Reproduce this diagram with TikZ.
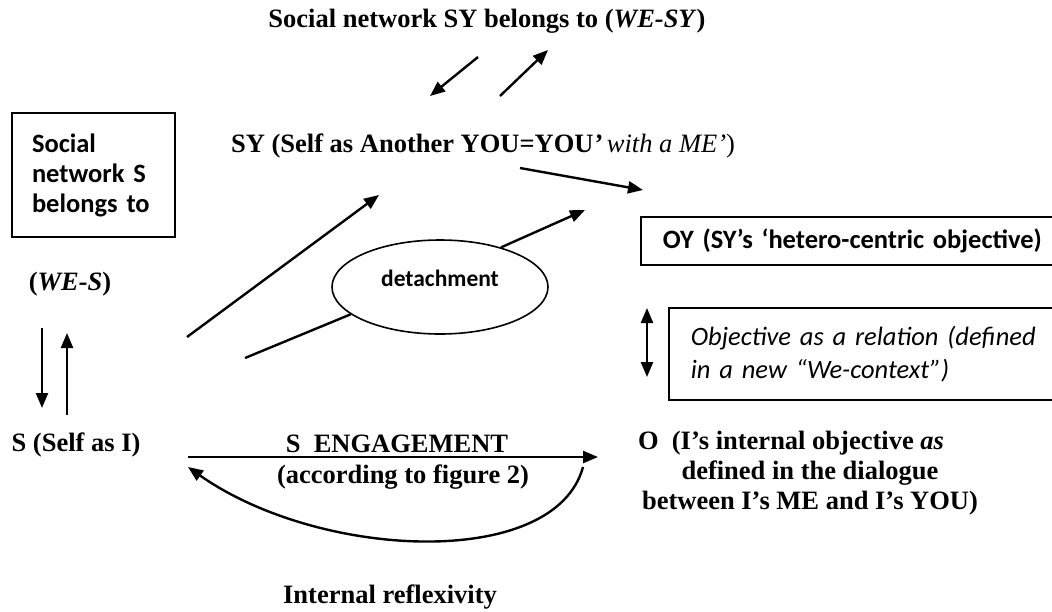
\documentclass[tikz,border=0pt]{standalone}
\usepackage{fontspec}
\setmainfont{Liberation Serif}
\newfontfamily\calib{Carlito}
\usetikzlibrary{arrows.meta,shapes.geometric}
\begin{document}
\begin{tikzpicture}[x=1pt,y=-1pt,
  conn/.style={line width=2.4pt,-{Triangle[length=15pt,width=12pt]}},
  dconn/.style={line width=2.4pt,{Triangle[length=15pt,width=12pt]}-{Triangle[length=15pt,width=12pt]}},
  plain/.style={line width=2.4pt},
  sertext/.style={font=\fontsize{26.5}{30}\selectfont\bfseries, inner sep=0pt, anchor=base},
  sansbox/.style={draw, line width=1.8pt, font=\fontsize{26.5}{30}\selectfont\calib\bfseries, align=left},
]
\useasboundingbox (0,0) rectangle (1052,611);
\clip (0,0) rectangle (1052,611);

% texts
\node[sertext] (title) at (487,27) {Social network SY belongs to (\textit{WE-SY})};
\node[sertext] (sy) at (483,152) {SY (Self as Another YOU=YOU\textit{’}{\mdseries\itshape\,with a ME’}\mdseries)};
\node[sansbox, text width=123pt, inner xsep=20pt, minimum height=124pt] (snS) at (93.5,175) {Social\\network S\\belongs to};
\node[sertext] (wes) at (70,290) {(\textit{WE-S})};
\node[sertext] (sI) at (76,451) {S (Self as I)};
\node[draw, ellipse, line width=1.6pt, minimum width=216pt, minimum height=94pt] (det) at (440,287) {};
\node[font=\fontsize{23.5}{28}\selectfont\calib\bfseries, anchor=base] (detl) at (440,286) {detachment};
\node[sansbox, anchor=west, minimum height=48pt, text width=406pt, inner xsep=22pt] (oy) at (640,241) {OY (SY’s ‘hetero-centric objective)};
\node[draw, line width=1.8pt, anchor=west, minimum height=92pt, text width=400pt, inner xsep=22pt, align=left,
      font=\fontsize{26.5}{33}\selectfont\calib\itshape] (obj) at (668,354) {Objective as a relation (defined\\in a new “We-context”)};
\node[sertext] (eng) at (397,452) {S\ \ ENGAGEMENT};
\node[sertext] (acc) at (403,483) {(according to figure 2)};
\node[font=\fontsize{26.5}{30}\selectfont\bfseries, align=center, anchor=north] (O) at (810,428)
  {O\ \ (I’s internal objective \textit{as}\hspace*{38pt}\\defined in the dialogue\\between I’s ME and I’s YOU)};
\node[sertext] (ir) at (390,603) {Internal reflexivity};

% coordinates
\coordinate (t1) at (478,57);
\coordinate (t2) at (430,96);
\coordinate (t3) at (500,96);
\coordinate (t4) at (548,50);
\coordinate (d1) at (42,328);
\coordinate (d2) at (42,408);
\coordinate (u1) at (67,415);
\coordinate (u2) at (67,333);
\coordinate (a1) at (187,337);
\coordinate (a2) at (379,195);
\coordinate (b1) at (245,358);
\coordinate (b2) at (585,210);
\coordinate (c1) at (520,168);
\coordinate (c2) at (643,190);
\coordinate (e1) at (647,308);
\coordinate (e2) at (647,377);
\coordinate (f1) at (188,457);
\coordinate (f2) at (598,457);
\coordinate (g1) at (583,467);
\coordinate (g2) at (188,467);

% connectors
\draw[conn] (t1) -- (t2);
\draw[conn] (t3) -- (t4);
\draw[conn] (d1) -- (d2);
\draw[conn] (u1) -- (u2);
\draw[conn] (a1) -- (a2);
\draw[plain] (b1) -- (det.197);
\draw[conn] (det.33) -- (b2);
\draw[conn] (c1) -- (c2);
\draw[dconn] (e1) -- (e2);
\draw[conn] (f1) -- (f2);
\draw[conn] (g1) .. controls (555,570) and (320,560) .. (g2);
\end{tikzpicture}
\end{document}
